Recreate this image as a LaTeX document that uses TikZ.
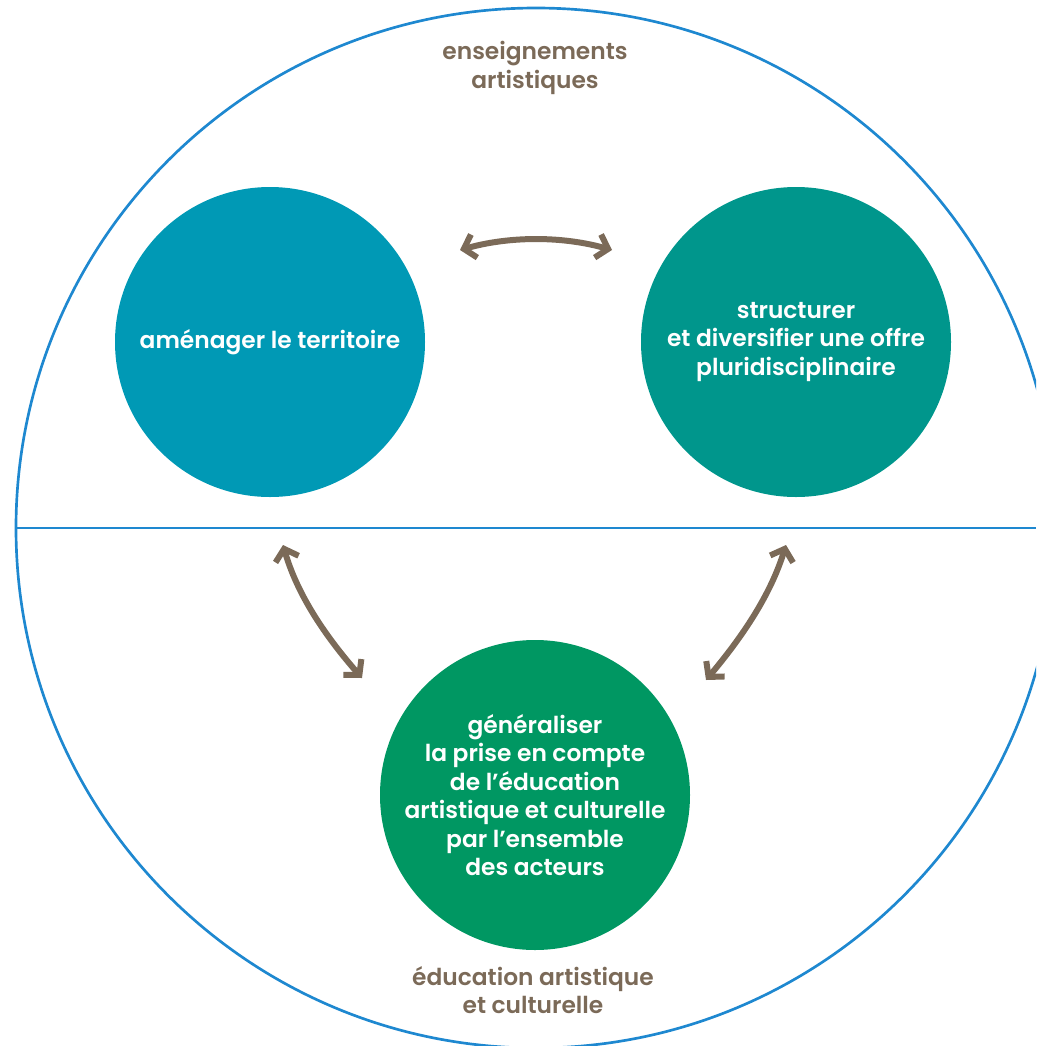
\documentclass[tikz,border=0pt]{standalone}
\usepackage{fontspec}
\setmainfont{Poppins}[UprightFont=*-SemiBold,BoldFont=*-Bold]
\usetikzlibrary{arrows.meta}
\definecolor{ringblue}{RGB}{30,136,208}
\definecolor{cblue}{RGB}{0,153,181}
\definecolor{cteal}{RGB}{0,150,140}
\definecolor{cgreen}{RGB}{0,151,98}
\definecolor{brownc}{RGB}{123,106,88}
\tikzset{
  disc/.style={circle,minimum size=310*0.75pt,inner sep=0pt,text=white,align=center,font=\fontsize{17.5}{21.4}\selectfont},
  lbl/.style={text=brownc,align=center,font=\fontsize{17.5}{21.4}\selectfont},
  dblarrow/.style={draw=brownc,line width=4.5pt,{Straight Barb[length=8pt,width=18pt]}-{Straight Barb[length=8pt,width=18pt]}}
}
\begin{document}
\begin{tikzpicture}[x=0.75pt,y=-0.75pt]
\useasboundingbox (0,0) rectangle (1036,1046);
\begin{scope}
\clip (0,0) rectangle (1036,1046);
\draw[ringblue,line width=2pt] (536,528) circle (520);
\draw[ringblue,line width=2pt] (16,528) -- (1036,528);
\end{scope}
\node[disc,fill=cblue] (amen) at (270,342) {aménager le territoire};
\node[disc,fill=cteal] (struct) at (796,342) {structurer\\et diversifier une offre\\pluridisciplinaire};
\node[disc,fill=cgreen] (gen) at (535,795) {généraliser\\la prise en compte\\de l’éducation\\artistique et culturelle\\par l’ensemble\\des acteurs};
\node[lbl] (ens) at (535,68) {enseignements\\artistiques};
\node[lbl] (edu) at (533,990) {éducation artistique\\et culturelle};
\coordinate (t1) at (460,250);
\coordinate (t2) at (612,250);
\coordinate (l1) at (283,545);
\coordinate (l2) at (362,678);
\coordinate (r1) at (786,545);
\coordinate (r2) at (706,680);
\draw[dblarrow] (t1) .. controls (510,236) and (562,236) .. (t2);
\draw[dblarrow] (l1) .. controls (296,590) and (320,630) .. (l2);
\draw[dblarrow] (r1) .. controls (772,590) and (748,630) .. (r2);
\end{tikzpicture}
\end{document}
